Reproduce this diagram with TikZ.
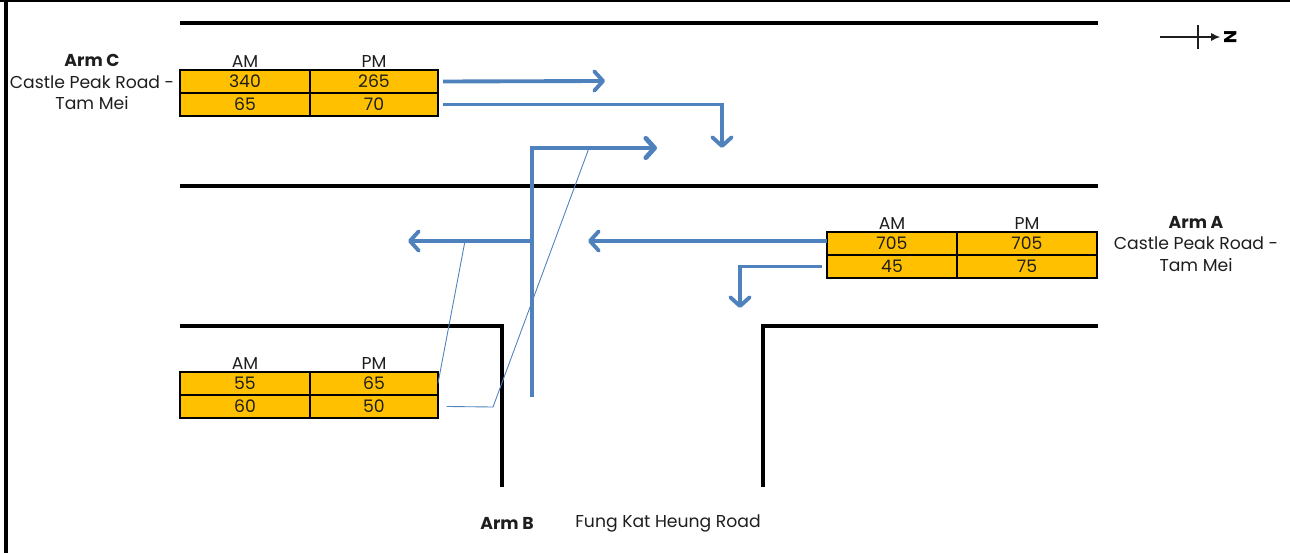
\documentclass[tikz,border=0pt]{standalone}
\usepackage{fontspec}
\setmainfont{Poppins}
\usetikzlibrary{arrows.meta,positioning}
\definecolor{flowblue}{RGB}{79,129,189}
\definecolor{cellfill}{RGB}{255,192,0}
\definecolor{ink}{RGB}{30,30,30}
\tikzset{
  cell/.style={draw=black, line width=1.1pt, fill=cellfill, minimum height=0.46cm,
    inner sep=0pt, outer sep=0pt, text=ink, font=\fontsize{9.8}{11}\selectfont},
  colhead/.style={inner sep=1.5pt, text=ink, font=\fontsize{9.8}{11}\selectfont},
  armtext/.style={align=center, text=ink, font=\fontsize{9.8}{12.5}\selectfont},
  flow/.style={flowblue, line width=2.2pt, -{Straight Barb[length=5pt,width=11pt,round]}},
  leader/.style={flowblue, line width=0.5pt},
  road/.style={line width=1.8pt},
}
\begin{document}
\begin{tikzpicture}[x=0.02cm, y=-0.02cm]
    \useasboundingbox (0,0) rectangle (1290,553);
    % frame
    \draw[line width=0.8pt] (0,1) -- (1290,1);
    \draw[line width=1.8pt] (6,0) -- (6,553);
    % road edges
    \draw[road] (180,23) -- (1098,23);
    \draw[road, line width=2.3pt] (180,186) -- (1098,186);
    \draw[road] (180,326) -- (502,326) -- (502,487);
    \draw[road] (763,487) -- (763,326) -- (1098,326);

    % Arm C table
    \node[cell, minimum width=2.6cm, anchor=north west] (c11) at (180,70) {340};
    \node[cell, minimum width=2.56cm, right=0pt of c11] (c12) {265};
    \node[cell, minimum width=2.6cm, below=0pt of c11] (c21) {65};
    \node[cell, minimum width=2.56cm, below=0pt of c12] (c22) {70};
    \node[colhead, above=0pt of c11] (cAM) {AM};
    \node[colhead, above=0pt of c12] (cPM) {PM};
    \node[armtext] (armC) at (92,82) {\textbf{Arm C}\\Castle Peak Road -\\Tam Mei};

    % Arm A table
    \node[cell, minimum width=2.6cm, anchor=north west] (a11) at (827,232) {705};
    \node[cell, minimum width=2.8cm, right=0pt of a11] (a12) {705};
    \node[cell, minimum width=2.6cm, below=0pt of a11] (a21) {45};
    \node[cell, minimum width=2.8cm, below=0pt of a12] (a22) {75};
    \node[colhead, above=0pt of a11] (aAM) {AM};
    \node[colhead, above=0pt of a12] (aPM) {PM};
    \node[armtext] (armA) at (1196,244) {\textbf{Arm A}\\Castle Peak Road -\\Tam Mei};

    % Arm B table
    \node[cell, minimum width=2.6cm, anchor=north west] (b11) at (180,372) {55};
    \node[cell, minimum width=2.56cm, right=0pt of b11] (b12) {65};
    \node[cell, minimum width=2.6cm, below=0pt of b11] (b21) {60};
    \node[cell, minimum width=2.56cm, below=0pt of b12] (b22) {50};
    \node[colhead, above=0pt of b11] (bAM) {AM};
    \node[colhead, above=0pt of b12] (bPM) {PM};
    \node[text=ink, font=\fontsize{9.8}{12}\selectfont\bfseries] (armB) at (507,523) {Arm B};
    \node[text=ink, font=\fontsize{9.8}{12}\selectfont] (armBname) at (668,523) {Fung Kat Heung Road};

    % turning points
    \coordinate (tipC1) at (605,81);
    \coordinate (tipC2) at (722,148);
    \coordinate (bStart) at (532,397);
    \coordinate (tipB1) at (657,148);
    \coordinate (bLeft) at (532,241);
    \coordinate (tipB2) at (408,241);
    \coordinate (tipA1) at (588,241);
    \coordinate (tipA2) at (740,308);
    \coordinate (leadB1) at (465,241);
    \coordinate (bendB2) at (493,407);
    \coordinate (leadB2) at (589,148);

    % flows
    \draw[flow] ([xshift=3]c12.east) -- (tipC1);
    \draw[flow] ([xshift=3]c22.east) -| (tipC2);
    \draw[flow, line width=2.7pt] (bStart) |- (tipB1);
    \draw[flow] (bLeft) -- (tipB2);
    \draw[flow] (a11.west |- tipA1) -- (tipA1);
    \draw[flow] ([xshift=-3]a21.west) -| (tipA2);
    \draw[leader] (b12.east) -- (leadB1);
    \draw[leader] ([xshift=5]b22.east) -- (bendB2) -- (leadB2);

    % north point
    \draw[ink, line width=0.6pt, -{Latex[length=5pt,width=4.5pt]}] (1160,37) coordinate (nTail) -- (1220,37) coordinate (nHead);
    \draw[ink, line width=0.6pt] (1198,25) -- (1198,49);
    \node[rotate=-90, inner sep=0pt, font=\fontsize{10}{11}\selectfont\bfseries] (north) at (1231,37) {N};
\end{tikzpicture}
\end{document}
